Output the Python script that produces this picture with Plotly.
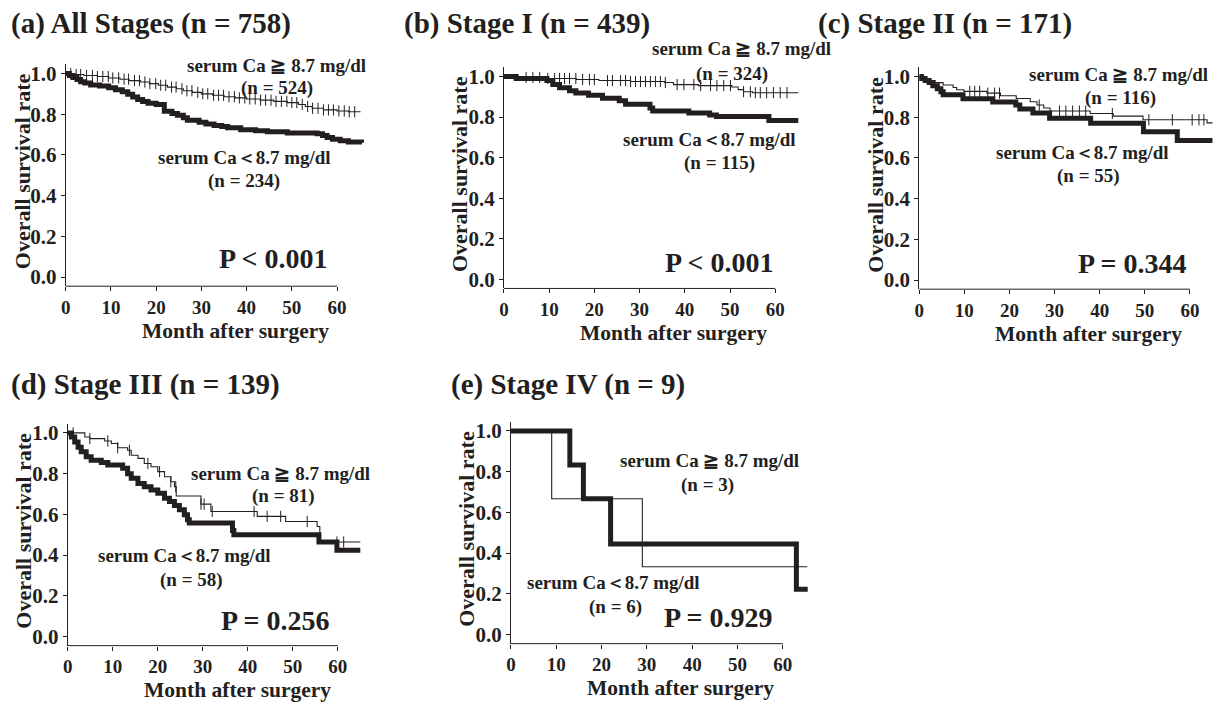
import plotly.graph_objects as go

W, H = 1218, 705
FONT = "Liberation Serif, Times New Roman, serif"
INK = "#231f20"

# ------------------------------------------------------------------ data
panel_titles = ["(a) All Stages (n = 758)", "(b) Stage I (n = 439)",
                "(c) Stage II (n = 171)", "(d) Stage III (n = 139)",
                "(e) Stage IV (n = 9)"]
hi_label = "serum Ca ≧ 8.7 mg/dl"
lo_label = "serum Ca＜8.7 mg/dl"
hi_n = [524, 324, 116, 81, 3]
lo_n = [234, 115, 55, 58, 6]
p_text = ["P < 0.001", "P < 0.001", "P = 0.344", "P = 0.256", "P = 0.929"]
x_ticks = [0, 10, 20, 30, 40, 50, 60]
y_ticks = [0.0, 0.2, 0.4, 0.6, 0.8, 1.0]

# (a) All stages
a_hi_t = [0, 1.5, 4, 7, 9.5, 12, 14, 16.5, 18.5, 20.5, 22.5, 24.5, 26, 28, 30, 32.5,
          35, 37.5, 40, 43, 46, 49, 51.5, 53, 54.5, 57, 60, 62.5, 65.2]
a_hi_s = [1.0, 0.995, 0.99, 0.985, 0.978, 0.972, 0.965, 0.958, 0.95, 0.942, 0.933,
          0.925, 0.915, 0.907, 0.90, 0.893, 0.886, 0.88, 0.875, 0.869, 0.863, 0.857,
          0.848, 0.838, 0.829, 0.821, 0.816, 0.812, 0.812]
a_hi_cens = [1.1, 2.3, 3.3, 4.6, 5.9, 7.0, 8.2, 9.4, 10.4, 11.7, 12.9, 13.9, 15.2, 16.3,
             17.5, 18.6, 19.9, 21.0, 22.1, 23.4, 24.4, 25.7, 26.8, 27.9, 29.2, 30.3,
             31.4, 32.7, 33.8, 34.9, 36.1, 37.3, 38.4, 39.6, 40.7, 41.9, 43.1, 44.2,
             45.4, 46.5, 47.7, 48.9, 50.0, 51.1, 52.3, 53.5, 54.6, 55.8, 57.0, 58.1,
             59.2, 60.4, 61.6, 62.7, 63.9]
a_lo_t = [0, 0.8, 1.6, 2.5, 3.3, 4.2, 5.5, 7.5, 9.5, 11, 12.5, 13.7, 14.8, 15.9, 17,
          18.2, 20, 21.8, 23.5, 24.7, 26, 26.9, 29.5, 31, 32.8, 34.5, 35.8, 38.7, 42,
          44.6, 49, 55.6, 56.8, 57.8, 59, 60.7, 62.5, 65.5]
a_lo_s = [1.0, 0.99, 0.98, 0.97, 0.96, 0.953, 0.944, 0.938, 0.93, 0.92, 0.91, 0.898,
          0.885, 0.872, 0.862, 0.854, 0.848, 0.814, 0.803, 0.795, 0.782, 0.77, 0.761,
          0.752, 0.745, 0.74, 0.734, 0.723, 0.719, 0.714, 0.708, 0.704, 0.695, 0.686,
          0.677, 0.669, 0.663, 0.66]

# (b) Stage I
b_hi_t = [0, 3, 9.7, 16, 21, 28, 35.5, 37.5, 43, 50.4, 51.8, 53, 55, 65.1]
b_hi_s = [1.0, 0.995, 0.99, 0.985, 0.98, 0.975, 0.97, 0.96, 0.955, 0.948, 0.935,
          0.925, 0.92, 0.92]
b_hi_cens = [4.9, 6.4, 7.9, 9.7, 11.2, 12.3, 13.4, 14.5, 15.9, 17.4, 18.9, 20.0, 22.9,
             24.0, 25.8, 26.9, 28.0, 29.1, 30.2, 31.3, 32.4, 33.5, 34.6, 35.7, 38.3,
             39.8, 42.0, 43.5, 45.7, 47.1, 48.6, 50.1, 53.0, 54.5, 55.6, 56.7, 58.1,
             59.6, 61.1, 62.6]
b_lo_t = [0, 2.7, 9.5, 10.8, 12.3, 14.5, 15.9, 18.7, 21.8, 25.5, 26.9, 32.3, 32.9,
          40.9, 45.5, 47, 58.6, 65.1]
b_lo_s = [1.0, 0.99, 0.98, 0.96, 0.945, 0.93, 0.918, 0.908, 0.893, 0.88, 0.863, 0.845,
          0.83, 0.82, 0.81, 0.803, 0.783, 0.783]

# (c) Stage II
c_hi_t = [0, 1, 2.5, 3.5, 5.3, 7.5, 8.3, 9.9, 15, 18, 21.5, 24.6, 26.1, 27.6, 29,
          37.9, 43, 49.6, 63.8, 65]
c_hi_s = [1.0, 0.99, 0.98, 0.97, 0.958, 0.946, 0.935, 0.927, 0.918, 0.905, 0.892,
          0.876, 0.86, 0.845, 0.83, 0.818, 0.805, 0.787, 0.772, 0.772]
c_hi_cens = [11.2, 12.3, 13.4, 15.2, 16.7, 17.8, 26.6, 31.1, 32.5, 34.0, 35.5, 36.9,
             42.8, 50.9, 56.1, 60.5, 62.0, 63.1]
c_lo_t = [0, 0.5, 1.3, 2.2, 3, 4, 4.8, 5.3, 9.7, 16.3, 21.4, 22.3, 25.2, 28.9, 38,
          49.7, 57.2, 65]
c_lo_s = [1.0, 0.99, 0.98, 0.97, 0.955, 0.94, 0.925, 0.91, 0.89, 0.875, 0.86, 0.84,
          0.82, 0.795, 0.77, 0.728, 0.685, 0.685]

# (d) Stage III
d_hi_t = [0, 3.8, 4.9, 8.2, 9.7, 11.1, 13.3, 14.1, 15.6, 17.0, 18.5, 20.0, 21.5, 22.9,
          23.7, 24.1, 29.6, 31.8, 42.1, 48.4, 55.4, 56.0, 65]
d_hi_s = [1.0, 0.98, 0.972, 0.96, 0.948, 0.927, 0.915, 0.89, 0.875, 0.85, 0.834, 0.81,
          0.785, 0.76, 0.736, 0.69, 0.65, 0.614, 0.59, 0.565, 0.54, 0.464, 0.464]
d_hi_cens = [1.2, 4.9, 8.9, 11.1, 13.7, 17.8, 20.4, 22.9, 24.0, 29.6, 30.3, 32.1, 41.4,
             44.3, 47.3, 53.2, 59.8, 61.3]
d_lo_t = [0, 0.8, 1.55, 2.3, 3.0, 4.1, 5.2, 7.45, 8.9, 12.2, 13.3, 14.1, 15.6, 17.0,
          18.5, 20.0, 21.5, 22.6, 23.7, 24.8, 25.9, 26.6, 27.0, 36.6, 36.9, 55.8, 59.8, 65]
d_lo_s = [1.0, 0.98, 0.956, 0.93, 0.907, 0.883, 0.866, 0.855, 0.842, 0.826, 0.80,
          0.777, 0.752, 0.736, 0.72, 0.704, 0.679, 0.663, 0.643, 0.622, 0.598, 0.573,
          0.557, 0.52, 0.50, 0.464, 0.423, 0.423]

# (e) Stage IV
e_hi_t = [0, 9, 29, 65.4]
e_hi_s = [1.0, 0.667, 0.333, 0.333]
e_hi_cens = []
e_lo_t = [0, 13, 16, 22, 63, 65.5]
e_lo_s = [1.0, 0.833, 0.667, 0.444, 0.222, 0.222]

curves = [
    (a_hi_t, a_hi_s, a_hi_cens, a_lo_t, a_lo_s),
    (b_hi_t, b_hi_s, b_hi_cens, b_lo_t, b_lo_s),
    (c_hi_t, c_hi_s, c_hi_cens, c_lo_t, c_lo_s),
    (d_hi_t, d_hi_s, d_hi_cens, d_lo_t, d_lo_s),
    (e_hi_t, e_hi_s, e_hi_cens, e_lo_t, e_lo_s),
]

# ------------------------------------------------------------------ layout geometry (pixels)
# left edge (month 0), pixel of S=1, pixel of S=0, pixels per month
geom = [(61, 72, 277, 4.54), (501, 75, 279.3, 4.54), (918, 75, 280, 4.53),
        (63, 434, 639, 4.52), (508, 432, 637, 4.55)]
title_pos = [(4, 22), (399, 22), (814, 22), (4, 385), (446, 385)]
# label centres: hi text, hi n, lo text, lo n, P value
label_pos = [
    [(273, 64), (273, 87), (240, 157), (240, 180), (270, 258)],
    [(740, 47), (730, 73), (707, 138), (717, 162), (717, 262)],
    [(1118, 73), (1120, 97), (1082, 152), (1088, 175), (1132, 263)],
    [(277, 475), (280, 498), (180, 557), (187, 582), (272, 623)],
    [(707, 462), (705, 486), (611, 585), (613, 609), (716, 620)],
]
XMAX = 66.0
YMIN, YMAX = -0.045, 1.045


def fx(x):
    return x / W


def fy(y):
    return 1 - y / H


def surv_at(ts, ss, t):
    v = ss[0]
    for ti, si in zip(ts, ss):
        if ti <= t:
            v = si
    return v


fig = go.Figure()
annotations = []
shapes = []
layout_axes = {}

for i, ((left, y1, y0, pxm), (hi_t, hi_s, cens, lo_t, lo_s)) in enumerate(zip(geom, curves)):
    k = "" if i == 0 else str(i + 1)
    xa, ya = "x" + k, "y" + k
    unit = y0 - y1
    top = y1 - (YMAX - 1) * unit
    bottom = y0 - YMIN * unit
    right = left + XMAX * pxm

    layout_axes["xaxis" + k] = dict(
        domain=[fx(left), fx(right)], range=[0, XMAX], anchor=ya,
        showline=False, showgrid=False, zeroline=False,
        ticks="outside", ticklen=4, tickwidth=1, tickcolor=INK,
        tickvals=x_ticks, ticktext=[f"<b>{v}</b>" for v in x_ticks],
        tickfont=dict(family=FONT, size=19, color=INK), fixedrange=True)
    layout_axes["yaxis" + k] = dict(
        domain=[fy(bottom), fy(top)], range=[YMIN, YMAX], anchor=xa,
        showline=True, linecolor=INK, linewidth=1, showgrid=False, zeroline=False,
        ticks="outside", ticklen=4, tickwidth=1, tickcolor=INK,
        tickvals=y_ticks, ticktext=[f"<b>{v:.1f}</b>" for v in y_ticks],
        tickfont=dict(family=FONT, size=21, color=INK), fixedrange=True)

    # x axis line only from 0 to 60
    shapes.append(dict(type="line", xref=xa, yref=ya + " domain", x0=0, x1=60, y0=0, y1=0,
                       line=dict(color=INK, width=1)))

    # curves
    fig.add_trace(go.Scatter(x=lo_t, y=lo_s, xaxis=xa, yaxis=ya, mode="lines",
                             line=dict(color=INK, width=5, shape="hv"),
                             showlegend=False, hoverinfo="skip"))
    fig.add_trace(go.Scatter(x=hi_t, y=hi_s, xaxis=xa, yaxis=ya, mode="lines",
                             line=dict(color=INK, width=1.1, shape="hv"),
                             showlegend=False, hoverinfo="skip"))
    if cens:
        fig.add_trace(go.Scatter(x=cens, y=[surv_at(hi_t, hi_s, t) for t in cens],
                                 xaxis=xa, yaxis=ya, mode="markers",
                                 marker=dict(symbol="line-ns-open", size=8, color=INK,
                                             line=dict(color=INK, width=1)),
                                 showlegend=False, hoverinfo="skip"))

    # panel title
    tx, ty = title_pos[i]
    annotations.append(dict(x=fx(tx), y=fy(ty), xref="paper", yref="paper",
                            text=f"<b>{panel_titles[i]}</b>", showarrow=False,
                            xanchor="left", yanchor="middle",
                            font=dict(family=FONT, size=29, color=INK)))
    # axis titles
    annotations.append(dict(x=fx(left + 170), y=fy(bottom + 45), xref="paper", yref="paper",
                            text="<b>Month after surgery</b>", showarrow=False,
                            xanchor="center", yanchor="middle",
                            font=dict(family=FONT, size=21.5, color=INK)))
    annotations.append(dict(x=fx(left - 44), y=fy((y0 + y1) / 2 - 4), xref="paper", yref="paper",
                            text="<b>Overall survival rate</b>", showarrow=False, textangle=-90,
                            xanchor="center", yanchor="middle",
                            font=dict(family=FONT, size=22, color=INK)))
    # group labels
    texts = [hi_label, f"(n = {hi_n[i]})", lo_label, f"(n = {lo_n[i]})", p_text[i]]
    sizes = [19, 19, 19, 19, 28]
    for (lx, ly), t, s in zip(label_pos[i], texts, sizes):
        annotations.append(dict(x=fx(lx), y=fy(ly), xref="paper", yref="paper",
                                text=f"<b>{t}</b>", showarrow=False,
                                xanchor="center", yanchor="middle",
                                font=dict(family=FONT, size=s, color=INK)))

fig.update_layout(
    width=W, height=H, margin=dict(l=0, r=0, t=0, b=0),
    paper_bgcolor="white", plot_bgcolor="white",
    annotations=annotations, shapes=shapes, **layout_axes)

fig.write_html("out.html", config={"displayModeBar": False},
               post_script="document.body.style.margin='0';"
                           "document.body.style.overflow='hidden';")
